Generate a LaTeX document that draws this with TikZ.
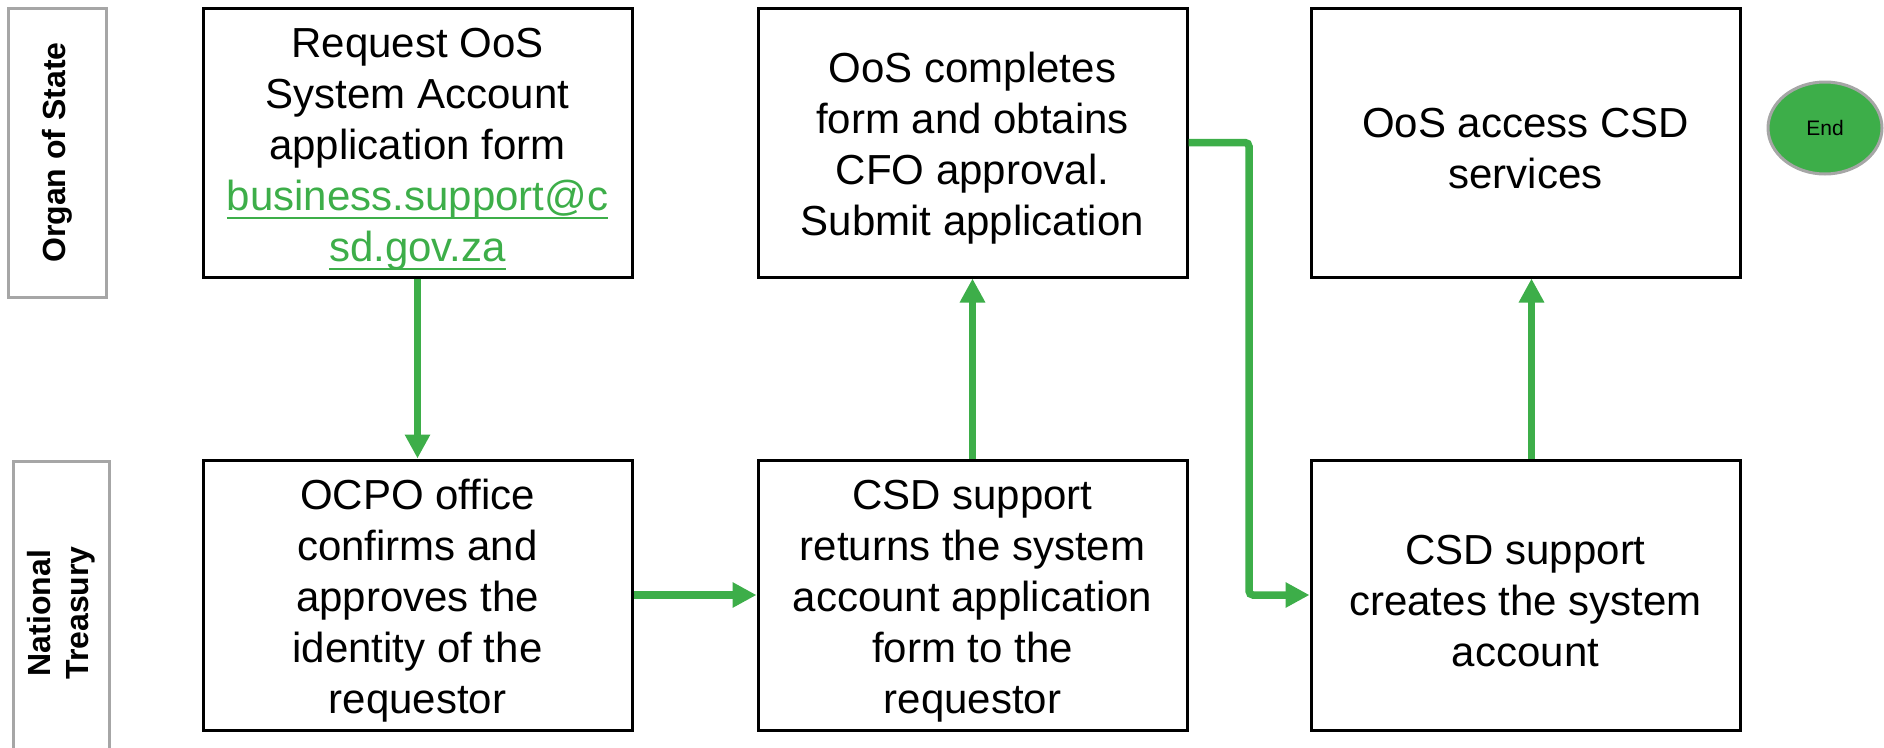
\documentclass[tikz,border=0pt]{standalone}
\usepackage{fontspec}
\setmainfont{Liberation Sans}
\usetikzlibrary{arrows.meta,shapes.geometric}
\definecolor{flowgreen}{HTML}{3DAE49}
\definecolor{lanegray}{HTML}{A6A6A6}
\newsavebox{\linkbox}
\newcommand{\mylink}[1]{{\color{flowgreen}\sbox{\linkbox}{#1}\rlap{\rule[-9pt]{\wd\linkbox}{2.5pt}}\usebox{\linkbox}}}
\newcommand{\topstrut}{\rule{0pt}{42pt}}
\begin{document}
\begin{tikzpicture}[x=1pt,y=-1pt,
  stepbox/.style={draw=black,line width=3pt,minimum width=429pt,minimum height=269pt,
    align=center,inner sep=0pt,font=\fontsize{42}{51}\selectfont},
  lanebox/.style={draw=lanegray,line width=3pt,rotate=90,align=center,inner sep=0pt,
    font=\bfseries\fontsize{32}{38}\selectfont},
  arr/.style={draw=flowgreen,line width=7.5pt,-{Triangle[length=24pt,width=24pt]}},
  endnode/.style={ellipse,fill=flowgreen,draw=lanegray,line width=3pt,minimum width=114pt,
    minimum height=92pt,inner sep=0pt,font=\fontsize{21}{25}\selectfont}]
\useasboundingbox (0,0) rectangle (1884,747);
% lanes
\node[lanebox,minimum width=289pt,minimum height=98pt] (laneA) at (57,152.5) {Organ of State};
\node[lanebox,minimum width=304pt,minimum height=96pt] (laneB) at (61,613) {National\\Treasury};
% top row
\node[stepbox] (b1) at (417.5,142.5) {\topstrut Request OoS\\System Account\\application form\\\mylink{business.support@c}\\\mylink{sd.gov.za}};
\node[stepbox] (b2) at (972.5,142.5) {\topstrut OoS completes\\form and obtains\\CFO approval.\\Submit application};
\node[stepbox] (b3) at (1525.5,142.5) {\topstrut OoS access CSD\\services};
\node[endnode] (end) at (1825,128) {End};
% bottom row
\node[stepbox,minimum height=270pt] (b4) at (417.5,595) {\topstrut OCPO office\\confirms and\\approves the\\identity of the\\requestor};
\node[stepbox,minimum height=270pt] (b5) at (972.5,595) {\topstrut CSD support\\returns the system\\account application\\form to the\\requestor};
\node[stepbox,minimum height=270pt] (b6) at (1525.5,595) {\topstrut CSD support\\creates the system\\account};
% connectors
\draw[arr] (b1.south) -- (b4.north);
\draw[arr] (b4.east) -- (b5.west);
\draw[arr] (b5.north) -- (b2.south);
\coordinate (elbow) at (1249,143);
\draw[arr,rounded corners=4pt] (b2.east) -- (b2.east -| elbow) |- (b6.west);
\draw[arr] ([xshift=6pt]b6.north) -- ([xshift=6pt]b3.south);
\end{tikzpicture}
\end{document}
